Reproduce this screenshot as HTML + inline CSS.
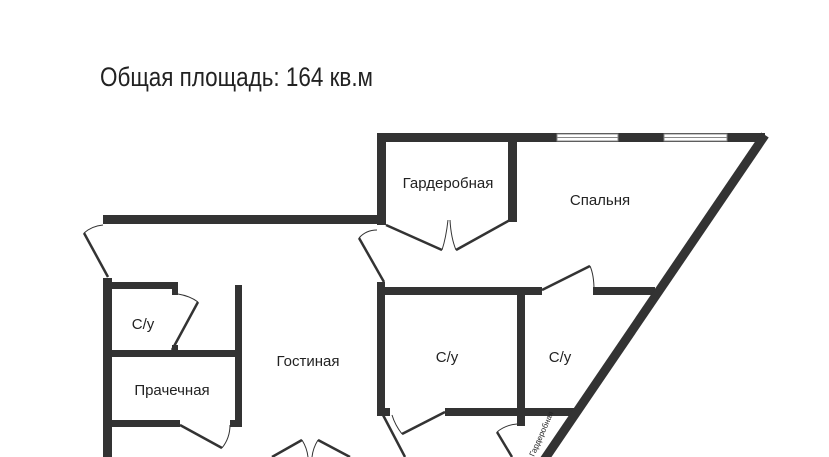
<!DOCTYPE html>
<html><head><meta charset="utf-8"><style>
html,body{margin:0;padding:0;background:#fff;}
svg{display:block;}
text{font-family:"Liberation Sans Narrow","Liberation Sans","DejaVu Sans",sans-serif;fill:#222;}
</style></head><body>
<svg width="829" height="457" viewBox="0 0 829 457" xmlns="http://www.w3.org/2000/svg">
<rect width="829" height="457" fill="#fff"/>
<text x="100" y="86" font-size="27" textLength="273" lengthAdjust="spacingAndGlyphs">Общая площадь: 164 кв.м</text>
<g fill="#333">
<!-- top long wall -->
<rect x="103" y="215" width="283" height="9"/>
<!-- gard left -->
<rect x="377" y="133" width="9" height="92"/>
<!-- top wall -->
<rect x="377" y="133" width="388" height="9"/>
<!-- gard right -->
<rect x="508" y="133" width="9" height="89"/>
<!-- wall y288 -->
<rect x="377" y="287" width="165" height="8"/>
<rect x="593" y="287" width="62" height="8"/>
<!-- c/u left wall -->
<rect x="377" y="282" width="8" height="133"/>
<!-- middle wall -->
<rect x="517" y="288" width="8" height="138"/>
<!-- bottom wall -->
<rect x="377" y="408" width="13" height="8"/>
<rect x="445" y="408" width="133" height="8"/>
<!-- left outer -->
<rect x="103" y="278" width="9" height="179"/>
<rect x="103" y="282" width="75" height="7"/>
<rect x="172" y="282" width="6" height="13"/>
<rect x="172" y="345" width="6" height="10"/>
<rect x="103" y="350" width="139" height="7"/>
<rect x="235" y="285" width="7" height="141"/>
<rect x="103" y="420" width="77" height="7"/>
<rect x="230" y="420" width="12" height="7"/>
</g>
<!-- windows -->
<g fill="#fff" stroke="#888" stroke-width="1">
<rect x="557" y="134" width="61" height="7"/>
<rect x="664" y="134" width="63" height="7"/>
</g>
<line x1="557" y1="137.5" x2="618" y2="137.5" stroke="#888"/>
<line x1="664" y1="137.5" x2="727" y2="137.5" stroke="#888"/>
<!-- diagonal wall -->
<line x1="765" y1="135" x2="544" y2="460" stroke="#333" stroke-width="9"/>
<!-- doors -->
<g fill="none" stroke="#333" stroke-width="2.5">
<path d="M108 277 L84 233"/>
<path d="M384 282 L359 238"/>
<path d="M386 225 L442 250"/>
<path d="M510 220 L456 250"/>
<path d="M542 290 L590 266"/>
<path d="M172 350 L198 302"/>
<path d="M180 425 L222 448"/>
<path d="M272 457 L302 440"/>
<path d="M318 440 L350 457"/>
<path d="M383 415 L405 457"/>
<path d="M402 434 L445 412"/>
<path d="M497 432 L512 457"/>
</g>
<g fill="none" stroke="#333" stroke-width="1">
<path d="M84 233 Q92 226 103 225"/>
<path d="M359 238 Q366 230 377 230"/>
<path d="M442 250 Q446 238 448 220"/>
<path d="M456 250 Q451 238 450 220"/>
<path d="M590 266 Q594 275 594 290"/>
<path d="M198 302 Q190 296 178 294"/>
<path d="M222 448 Q230 438 230 425"/>
<path d="M302 440 Q307 448 308 457"/>
<path d="M318 440 Q313 448 312 457"/>
<path d="M402 434 Q395 425 392 415"/>
<path d="M497 432 Q505 425 517 424"/>
</g>
<g font-size="15">
<text x="448" y="188" text-anchor="middle">Гардеробная</text>
<text x="600" y="205" text-anchor="middle">Спальня</text>
<text x="143" y="329" text-anchor="middle">С/у</text>
<text x="308" y="366" text-anchor="middle">Гостиная</text>
<text x="447" y="362" text-anchor="middle">С/у</text>
<text x="560" y="362" text-anchor="middle">С/у</text>
<text x="172" y="395" text-anchor="middle">Прачечная</text>
</g>
<text x="0" y="0" font-size="8" transform="translate(534,457) rotate(-66)">Гардеробная</text>
</svg>
</body></html>
